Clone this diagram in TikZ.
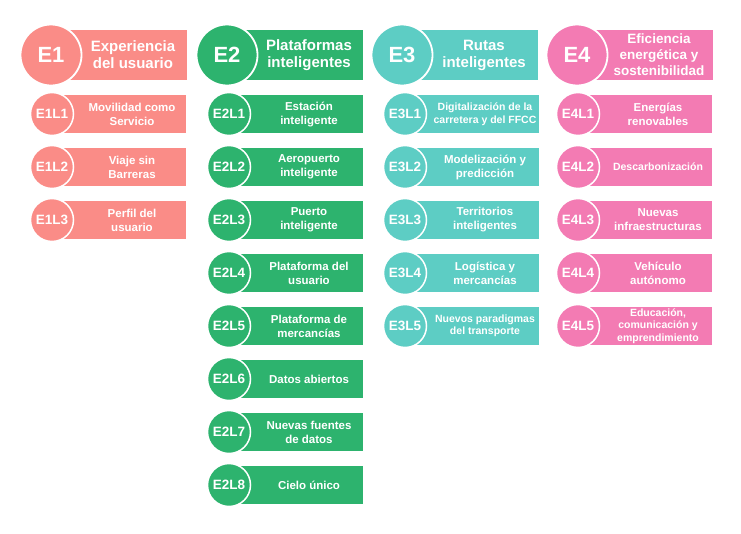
\documentclass[tikz,border=0pt]{standalone}
\usepackage{fontspec}
\setmainfont{Liberation Sans}
\definecolor{cA}{HTML}{FA8C87}
\definecolor{cB}{HTML}{2DB36E}
\definecolor{cC}{HTML}{5DCDC4}
\definecolor{cD}{HTML}{F37BB3}
\tikzset{
  bigcirc/.style={circle, draw=white, line width=1.8pt, minimum size=61pt, inner sep=0pt,
    font=\bfseries\fontsize{22}{22}\selectfont, text=white},
  smallcirc/.style={circle, draw=white, line width=1.5pt, minimum size=43pt, inner sep=0pt,
    font=\bfseries\fontsize{13.5}{13.5}\selectfont, text=white},
  headtxt/.style={text=white, align=center, inner sep=0pt, font=\bfseries\fontsize{15}{17}\selectfont},
  headsm/.style={headtxt, font=\bfseries\fontsize{13.5}{16}\selectfont},
  itemtxt/.style={text=white, align=center, inner sep=0pt, font=\bfseries\fontsize{11.5}{14}\selectfont},
  itemsm/.style={itemtxt, font=\bfseries\fontsize{10.5}{12.5}\selectfont},
}
% #1 cx, #2 y, #3 colour, #4 name, #5 label, #6 text, #7 text style
\newcommand\lineitem[7]{%
  \fill[#3] (#1,#2-19) rectangle (#1+134,#2+19);
  \node[#7] (#4t) at (#1+80,#2) {#6};
  \node[smallcirc, fill=#3] (#4) at (#1,#2) {#5};
}
% #1 cx, #2 colour, #3 name, #4 label, #5 text, #6 text style
\newcommand\headitem[6]{%
  \fill[#2] (#1,30) rectangle (#1+136,80);
  \node[#6] (#3t) at (#1+82,55) {#5};
  \node[bigcirc, fill=#2] (#3) at (#1,55) {#4};
}
\begin{document}
\begin{tikzpicture}[x=1pt, y=-1pt]
\useasboundingbox (0,0) rectangle (741,533);
% Column 1
\headitem{51}{cA}{e1}{E1}{Experiencia\\del usuario}{headtxt}
\lineitem{52}{114}{cA}{e1l1}{E1L1}{Movilidad como\\Servicio}{itemtxt}
\lineitem{52}{167}{cA}{e1l2}{E1L2}{Viaje sin\\Barreras}{itemtxt}
\lineitem{52}{220}{cA}{e1l3}{E1L3}{Perfil del\\usuario}{itemtxt}
% Column 2
\headitem{227}{cB}{e2}{E2}{Plataformas\\inteligentes}{headtxt}
\lineitem{229}{114}{cB}{e2l1}{E2L1}{Estación\\inteligente}{itemtxt}
\lineitem{229}{167}{cB}{e2l2}{E2L2}{Aeropuerto\\inteligente}{itemtxt}
\lineitem{229}{220}{cB}{e2l3}{E2L3}{Puerto\\inteligente}{itemtxt}
\lineitem{229}{273}{cB}{e2l4}{E2L4}{Plataforma del\\usuario}{itemtxt}
\lineitem{229}{326}{cB}{e2l5}{E2L5}{Plataforma de\\mercancías}{itemtxt}
\lineitem{229}{379}{cB}{e2l6}{E2L6}{Datos abiertos}{itemtxt}
\lineitem{229}{432}{cB}{e2l7}{E2L7}{Nuevas fuentes\\de datos}{itemtxt}
\lineitem{229}{485}{cB}{e2l8}{E2L8}{Cielo único}{itemtxt}
% Column 3
\headitem{402}{cC}{e3}{E3}{Rutas\\inteligentes}{headtxt}
\lineitem{405}{114}{cC}{e3l1}{E3L1}{Digitalización de la\\carretera y del FFCC}{itemsm}
\lineitem{405}{167}{cC}{e3l2}{E3L2}{Modelización y\\predicción}{itemtxt}
\lineitem{405}{220}{cC}{e3l3}{E3L3}{Territorios\\inteligentes}{itemtxt}
\lineitem{405}{273}{cC}{e3l4}{E3L4}{Logística y\\mercancías}{itemtxt}
\lineitem{405}{326}{cC}{e3l5}{E3L5}{Nuevos paradigmas\\del transporte}{itemsm}
% Column 4
\headitem{577}{cD}{e4}{E4}{Eficiencia\\energética y\\sostenibilidad}{headsm}
\lineitem{578}{114}{cD}{e4l1}{E4L1}{Energías\\renovables}{itemtxt}
\lineitem{578}{167}{cD}{e4l2}{E4L2}{Descarbonización}{itemsm}
\lineitem{578}{220}{cD}{e4l3}{E4L3}{Nuevas\\infraestructuras}{itemtxt}
\lineitem{578}{273}{cD}{e4l4}{E4L4}{Vehículo\\autónomo}{itemtxt}
\lineitem{578}{326}{cD}{e4l5}{E4L5}{Educación,\\comunicación y\\emprendimiento}{itemsm}
\end{tikzpicture}
\end{document}
